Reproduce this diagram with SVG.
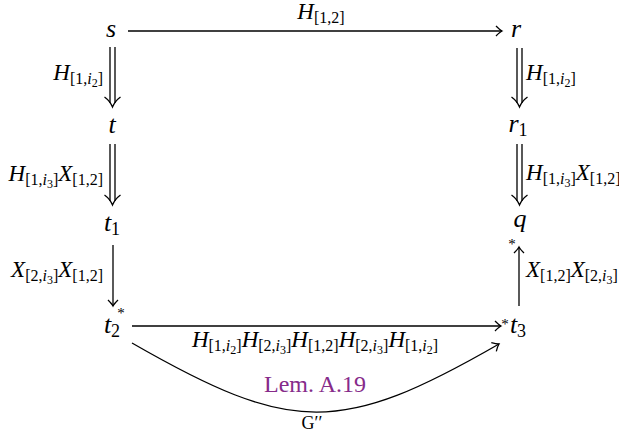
<svg xmlns="http://www.w3.org/2000/svg" width="619" height="434" viewBox="0 0 619 434">
<defs>
<marker id="ah" markerUnits="userSpaceOnUse" viewBox="-8 -6 10 12" markerWidth="10" markerHeight="12" refX="0" refY="0" orient="auto" overflow="visible">
<path d="M-6,-5 Q-2,-1 0,0 Q-2,1 -6,5" stroke="#000" stroke-width="1.3" fill="none"/>
</marker>
</defs>
<g id="connectors" stroke="#000" stroke-width="1.3" fill="none">
<path d="M128,31 H502" marker-end="url(#ah)"/>
<g id="dbl-s-t">
<path d="M110,47 V103 M115,47 V103"/>
<path d="M104.5,97 Q110,101 112.5,107 Q115,101 120.5,97"/>
</g>
<g id="dbl-t-t1">
<path d="M110,144 V201 M115,144 V201"/>
<path d="M104.5,195 Q110,199 112.5,205 Q115,199 120.5,195"/>
</g>
<g id="dbl-r-r1">
<path d="M517,48 V103 M522,48 V103"/>
<path d="M511.5,97 Q517,101 519.5,107 Q522,101 527.5,97"/>
</g>
<g id="dbl-r1-q">
<path d="M517,144 V201 M522,144 V201"/>
<path d="M511.5,195 Q517,199 519.5,205 Q522,199 527.5,195"/>
</g>
<path d="M113,245 V306" marker-end="url(#ah)"/>
<path d="M519,306 V247" marker-end="url(#ah)"/>
<path d="M132,326 H501" marker-end="url(#ah)"/>
<path d="M132,343 C292,435 341,435 499,344" marker-end="url(#ah)"/>
</g>
<g id="node-s"><text font-family="Liberation Serif" font-style="italic" font-size="26" x="111" y="37" text-anchor="middle">s</text></g>
<g id="node-r"><text font-family="Liberation Serif" font-style="italic" font-size="26" x="516" y="37" text-anchor="middle">r</text></g>
<g id="node-t"><text font-family="Liberation Serif" font-style="italic" font-size="26" x="112" y="133" text-anchor="middle">t</text></g>
<g id="node-r1"><text font-family="Liberation Serif" font-style="italic" font-size="26" x="518" y="132" text-anchor="middle">r<tspan font-style="normal" font-size="18" dy="4">1</tspan></text></g>
<g id="node-t1"><text font-family="Liberation Serif" font-style="italic" font-size="26" x="112" y="231" text-anchor="middle">t<tspan font-style="normal" font-size="18" dy="4">1</tspan></text></g>
<g id="node-q"><text font-family="Liberation Serif" font-style="italic" font-size="26" x="520" y="227" text-anchor="middle">q</text><text font-family="Liberation Serif" font-size="15" x="512" y="249" text-anchor="middle">*</text></g>
<g id="node-t2"><text font-family="Liberation Serif" font-style="italic" font-size="26" x="112" y="333" text-anchor="middle">t<tspan font-style="normal" font-size="18" dy="4">2</tspan></text><text font-family="Liberation Serif" font-size="15" x="121" y="318" text-anchor="middle">*</text></g>
<g id="node-t3"><text font-family="Liberation Serif" font-size="15" x="505" y="329" text-anchor="middle">*</text><text font-family="Liberation Serif" font-style="italic" font-size="26" x="518" y="333" text-anchor="middle">t<tspan font-style="normal" font-size="18" dy="4">3</tspan></text></g>
<g id="labels">
<text font-family="Liberation Serif" font-style="italic" font-size="23" x="321" y="19" text-anchor="middle">H<tspan font-style="normal" font-size="16" dy="4">[1,2]</tspan></text>
<text font-family="Liberation Serif" font-style="italic" font-size="23" x="103" y="80" text-anchor="end">H<tspan font-style="normal" font-size="16" dy="4">[1,<tspan font-style="italic">i</tspan><tspan font-size="12" dy="3">2</tspan><tspan dy="-3">]</tspan></tspan></text>
<text font-family="Liberation Serif" font-style="italic" font-size="23" x="103" y="181" text-anchor="end">H<tspan font-style="normal" font-size="16" dy="4">[1,<tspan font-style="italic">i</tspan><tspan font-size="12" dy="3">3</tspan><tspan dy="-3">]</tspan></tspan><tspan dy="-4">X</tspan><tspan font-style="normal" font-size="16" dy="4">[1,2]</tspan></text>
<text font-family="Liberation Serif" font-style="italic" font-size="23" x="103" y="277" text-anchor="end">X<tspan font-style="normal" font-size="16" dy="4">[2,<tspan font-style="italic">i</tspan><tspan font-size="12" dy="3">3</tspan><tspan dy="-3">]</tspan></tspan><tspan dy="-4">X</tspan><tspan font-style="normal" font-size="16" dy="4">[1,2]</tspan></text>
<text font-family="Liberation Serif" font-style="italic" font-size="23" x="526" y="80" text-anchor="start">H<tspan font-style="normal" font-size="16" dy="4">[1,<tspan font-style="italic">i</tspan><tspan font-size="12" dy="3">2</tspan><tspan dy="-3">]</tspan></tspan></text>
<text font-family="Liberation Serif" font-style="italic" font-size="23" x="526" y="180" text-anchor="start">H<tspan font-style="normal" font-size="16" dy="4">[1,<tspan font-style="italic">i</tspan><tspan font-size="12" dy="3">3</tspan><tspan dy="-3">]</tspan></tspan><tspan dy="-4">X</tspan><tspan font-style="normal" font-size="16" dy="4">[1,2]</tspan></text>
<text font-family="Liberation Serif" font-style="italic" font-size="23" x="526" y="277" text-anchor="start">X<tspan font-style="normal" font-size="16" dy="4">[1,2]</tspan><tspan dy="-4">X</tspan><tspan font-style="normal" font-size="16" dy="4">[2,<tspan font-style="italic">i</tspan><tspan font-size="12" dy="3">3</tspan><tspan dy="-3">]</tspan></tspan></text>
<text font-family="Liberation Serif" font-style="italic" font-size="23" x="315" y="347" text-anchor="middle">H<tspan font-style="normal" font-size="16" dy="4">[1,<tspan font-style="italic">i</tspan><tspan font-size="12" dy="3">2</tspan><tspan dy="-3">]</tspan></tspan><tspan dy="-4">H</tspan><tspan font-style="normal" font-size="16" dy="4">[2,<tspan font-style="italic">i</tspan><tspan font-size="12" dy="3">3</tspan><tspan dy="-3">]</tspan></tspan><tspan dy="-4">H</tspan><tspan font-style="normal" font-size="16" dy="4">[1,2]</tspan><tspan dy="-4">H</tspan><tspan font-style="normal" font-size="16" dy="4">[2,<tspan font-style="italic">i</tspan><tspan font-size="12" dy="3">3</tspan><tspan dy="-3">]</tspan></tspan><tspan dy="-4">H</tspan><tspan font-style="normal" font-size="16" dy="4">[1,<tspan font-style="italic">i</tspan><tspan font-size="12" dy="3">2</tspan><tspan dy="-3">]</tspan></tspan></text>
<text font-family="Liberation Serif" font-size="24" fill="#862b8a" x="315" y="392" text-anchor="middle">Lem. A.19</text>
<text font-family="Liberation Serif" font-size="18" x="312" y="429" text-anchor="middle">G′′</text>
</g>
</svg>
